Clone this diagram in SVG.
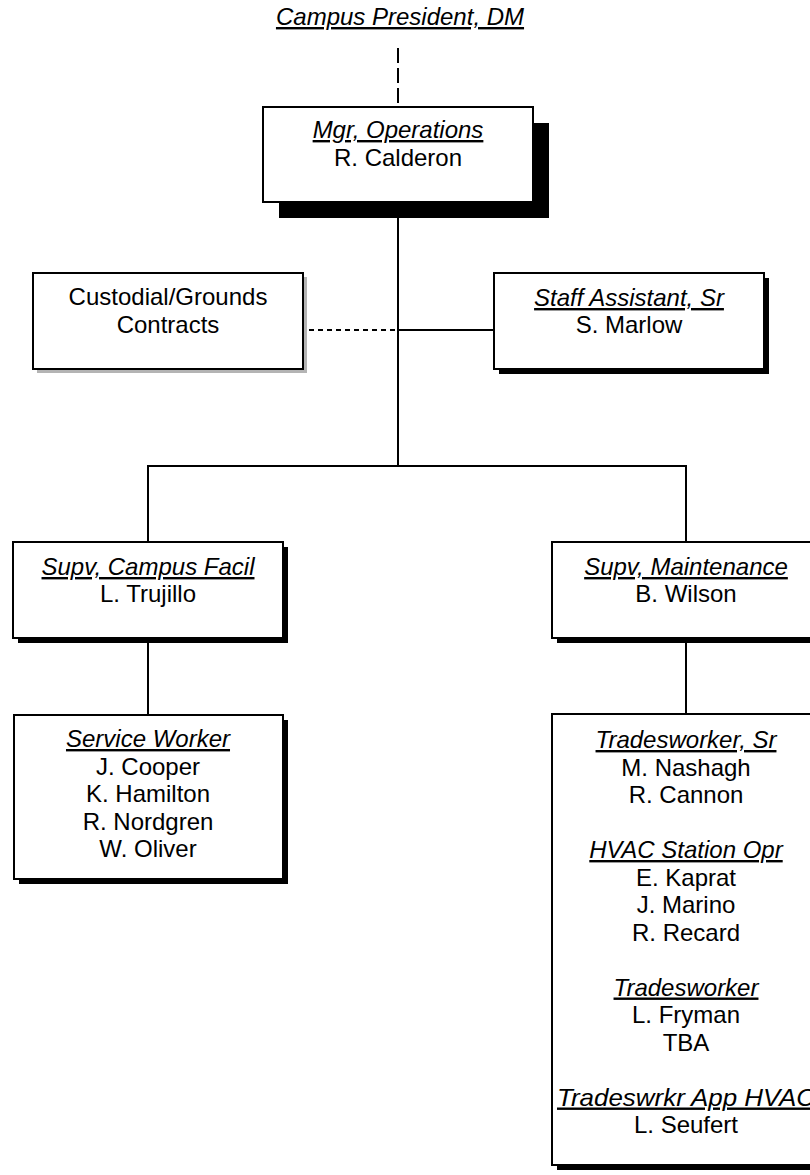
<svg xmlns="http://www.w3.org/2000/svg" width="810" height="1175" viewBox="0 0 810 1175">
<style>
text{font-family:"Liberation Sans",Arial,sans-serif;font-size:24px;fill:#000;text-anchor:middle}
.t{font-style:italic;text-decoration:underline}
.box{fill:#fff;stroke:#000;stroke-width:2}
.sh{fill:#000}
.gs{fill:#b4b4b4}
.ln{stroke:#000;stroke-width:2;fill:none}
.dl{stroke:#000;stroke-width:2;fill:none;stroke-dasharray:15 5}
.ds{stroke:#000;stroke-width:2;fill:none;stroke-dasharray:5 4}
</style>
<rect width="810" height="1175" fill="#fff"/>
<g id="connectors">
<line class="dl" x1="398" y1="48" x2="398" y2="107"/>
<line class="ln" x1="398" y1="218" x2="398" y2="466"/>
<line class="ds" x1="309" y1="330" x2="398" y2="330"/>
<line class="ln" x1="398" y1="330" x2="494" y2="330"/>
<polyline class="ln" points="148,542 148,466 686,466 686,542"/>
<line class="ln" x1="148" y1="643" x2="148" y2="715"/>
<line class="ln" x1="686" y1="643" x2="686" y2="714"/>
</g>
<g id="president">
<text class="t" x="400" y="25">Campus President, DM</text>
</g>
<g id="mgr">
<rect class="sh" x="279" y="123" width="270" height="95"/>
<rect class="box" x="263" y="107" width="270" height="95"/>
<text class="t" x="398" y="138">Mgr, Operations</text>
<text x="398" y="166">R. Calderon</text>
</g>
<g id="custodial">
<rect class="gs" x="37" y="277" width="270" height="96"/>
<rect class="box" x="33" y="273" width="270" height="96"/>
<text x="168" y="305">Custodial/Grounds</text>
<text x="168" y="333">Contracts</text>
</g>
<g id="staff">
<rect class="sh" x="499" y="278" width="270" height="96"/>
<rect class="box" x="494" y="273" width="270" height="96"/>
<text class="t" x="629" y="306">Staff Assistant, Sr</text>
<text x="629" y="333">S. Marlow</text>
</g>
<g id="supv-campus">
<rect class="sh" x="18" y="547" width="270" height="96"/>
<rect class="box" x="13" y="542" width="270" height="96"/>
<text class="t" x="148" y="575">Supv, Campus Facil</text>
<text x="148" y="602">L. Trujillo</text>
</g>
<g id="supv-maint">
<rect class="sh" x="557" y="547" width="270" height="96"/>
<rect class="box" x="552" y="542" width="270" height="96"/>
<text class="t" x="686" y="575">Supv, Maintenance</text>
<text x="686" y="602">B. Wilson</text>
</g>
<g id="service">
<rect class="sh" x="19" y="720" width="269" height="164"/>
<rect class="box" x="14" y="715" width="269" height="164"/>
<text class="t" x="148" y="747">Service Worker</text>
<text x="148" y="774.5">J. Cooper</text>
<text x="148" y="802">K. Hamilton</text>
<text x="148" y="829.5">R. Nordgren</text>
<text x="148" y="857">W. Oliver</text>
</g>
<g id="trades">
<rect class="sh" x="557" y="719" width="270" height="451"/>
<rect class="box" x="552" y="714" width="270" height="451"/>
<text class="t" x="686" y="748">Tradesworker, Sr</text>
<text x="686" y="775.5">M. Nashagh</text>
<text x="686" y="803">R. Cannon</text>
<text class="t" x="686" y="858">HVAC Station Opr</text>
<text x="686" y="885.5">E. Kaprat</text>
<text x="686" y="913">J. Marino</text>
<text x="686" y="940.5">R. Recard</text>
<text class="t" x="686" y="995.5">Tradesworker</text>
<text x="686" y="1023">L. Fryman</text>
<text x="686" y="1050.5">TBA</text>
<text class="t" x="557" y="1105.5" style="text-anchor:start" textLength="258" lengthAdjust="spacingAndGlyphs">Tradeswrkr App HVAC</text>
<text x="686" y="1133">L. Seufert</text>
</g>
</svg>
